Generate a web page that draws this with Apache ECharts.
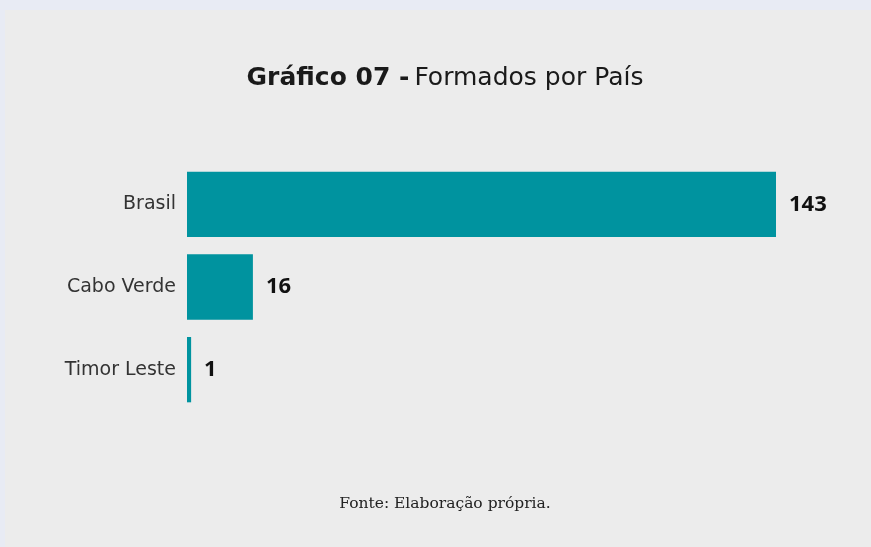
<!DOCTYPE html>
<html>
<head>
<meta charset="utf-8">
<script src="https://cdn.jsdelivr.net/npm/echarts@6/dist/echarts.min.js"></script>
<style>
  html, body { margin: 0; padding: 0; background: #e8ebf4; }
  #paper { position: absolute; left: 5px; top: 10px; right: 0; bottom: 0; background: #ececec; }
  #chart { position: absolute; left: 0; top: 0; width: 871px; height: 547px; }
</style>
</head>
<body>
<div id="paper"></div>
<div id="chart"></div>
<script>
// dados do gráfico
const paises = ['Brasil', 'Cabo Verde', 'Timor Leste']
const formados = [143, 16, 1]

let myChart = echarts.init(document.getElementById('chart'))
myChart.setOption({
  backgroundColor: 'transparent',
  title: [
    {
      text: '{b|Gráfico 07 -} {r|Formados por País}',
      left: 440,
      top: 61,
      textAlign: 'center',
      textStyle: {
        rich: {
          b: { fontFamily: 'DejaVu Sans', fontWeight: 'bold', fontSize: 25, color: '#1a1a1a' },
          r: { fontFamily: 'DejaVu Sans', fontWeight: 'normal', fontSize: 25, color: '#1a1a1a' }
        }
      }
    },
    {
      text: 'Fonte: Elaboração própria.',
      left: 440,
      top: 491,
      textAlign: 'center',
      textStyle: { fontFamily: 'DejaVu Serif', fontWeight: 'normal', fontSize: 15.5, color: '#222' }
    }
  ],
  grid: { left: 187, right: 95, top: 163, bottom: 136 },
  xAxis: {
    type: 'value',
    min: 0,
    max: 143,
    show: false
  },
  yAxis: {
    type: 'category',
    inverse: true,
    data: paises,
    axisLine: { show: false },
    axisTick: { show: false },
    axisLabel: { fontFamily: 'DejaVu Sans', fontSize: 19, color: '#333', margin: 11 }
  },
  series: [
    {
      type: 'bar',
      data: formados,
      barCategoryGap: '21%',
      itemStyle: { color: '#00939f' },
      label: {
        show: true,
        position: 'right',
        distance: 13,
        fontFamily: 'Open Sans',
        fontWeight: 'bold',
        fontSize: 22,
        color: '#111'
      },
      animation: false
    }
  ]
})
</script>
</body>
</html>
